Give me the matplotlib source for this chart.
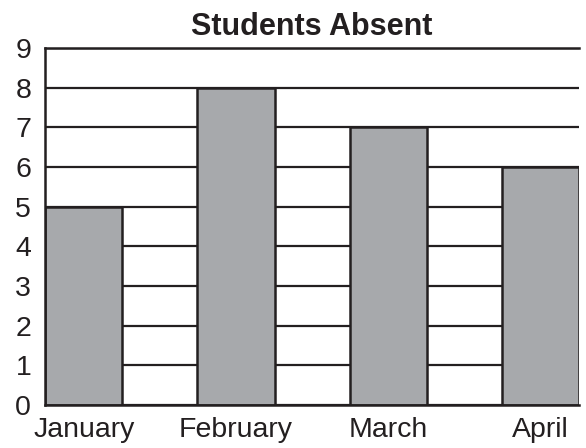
import matplotlib
matplotlib.use("Agg")
import matplotlib.pyplot as plt

months = ["January", "February", "March", "April"]
absent = [5, 8, 7, 6]
y_ticks = list(range(0, 10))

plt.rcParams['font.family'] = ['Liberation Sans', 'DejaVu Sans']
ink = '#231f20'

fig = plt.figure(figsize=(5.86, 4.48), dpi=100)
ax = fig.add_axes([0.077, 0.096, 0.911, 0.797])

w = 0.507
x = list(range(len(months)))
# horizontal rules behind the bars
for v in y_ticks:
    ax.axhline(v, color=ink, linewidth=1.6, zorder=1)
ax.bar(x, absent, width=w, color='#a7a9ac', edgecolor=ink, linewidth=1.8, zorder=2)

ax.set_xlim(-w / 2, len(months) - 1 + w / 2)
ax.set_ylim(0, 9)
ax.set_yticks(y_ticks)
ax.set_xticks(x)
ax.set_xticklabels(months)
ax.tick_params(axis='both', length=0, labelsize=20.5, colors=ink)
ax.tick_params(axis='y', pad=10)
ax.tick_params(axis='x', pad=9)
for s in ax.spines.values():
    s.set_color(ink)
    s.set_linewidth(1.8)
ax.spines['right'].set_visible(False)

ax.set_title("Students Absent", fontsize=22, fontweight='bold', color=ink, pad=9)

fig.savefig("out.png", dpi=100)
